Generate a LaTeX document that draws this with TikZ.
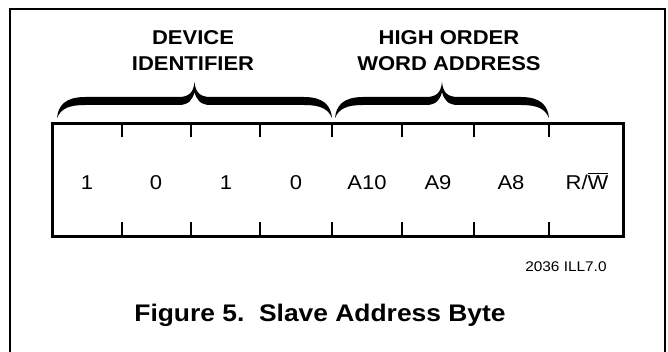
\documentclass[tikz,border=0pt]{standalone}
\usepackage{fontspec}
\setmainfont{Liberation Sans}[FakeStretch=1.1]

\begin{document}
\begin{tikzpicture}[x=0.5pt,y=-0.5pt]
	% Define styles for the lines and the texts
	\tikzset{bytebox/.style={line width=1.5pt},
		bittick/.style={line width=1.3pt},
		fieldtext/.style={align=center, font=\fontsize{10}{13}\selectfont\bfseries},
		bittext/.style={anchor=base, font=\fontsize{10}{12}\selectfont}}
	
	\useasboundingbox (0,0) rectangle (668,352);
	
	% Outer frame, open at the bottom
	\draw[line width=1.4pt] (10,360) -- (10,9) -- (665,9) -- (665,360);
	
	% Draw the byte box
	\draw[bytebox] (52,124) rectangle (623,236);
	
	% Tick marks between the bits
	\foreach \x in {122,191,260,332,402,474,549} {
		\draw[bittick] (\x,124) -- (\x,137);
		\draw[bittick] (\x,236) -- (\x,222);
	}
	
	% Bit labels
	\foreach \x/\b [count=\i] in {87/1,156/0,226/1,296/0,367/A10,438/A9,511/A8,587/{R/$\overline{\mbox{W}}$}}
		\node[bittext] (bit\i) at (\x,190) {\b};
	
	% Braces over the two fields, drawn as filled shapes
	\foreach \bl/\br in {57/332, 335/549} {
		\pgfmathsetmacro\bm{(\bl+\br)/2}
		\fill (\bl,118) .. controls (\bl+1,106) and (\bl+8,97) .. (\bl+28,97)
			-- (\bm-16,97) .. controls (\bm-5,97) and (\bm-1,92) .. (\bm,82)
			.. controls (\bm+1,92) and (\bm+5,97) .. (\bm+16,97)
			-- (\br-28,97) .. controls (\br-8,97) and (\br-1,106) .. (\br,118)
			.. controls (\br-4,109) and (\br-11,105) .. (\br-28,105)
			-- (\bm+16,105) .. controls (\bm+6,105) and (\bm+2,100) .. (\bm,92)
			.. controls (\bm-2,100) and (\bm-6,105) .. (\bm-16,105)
			-- (\bl+28,105) .. controls (\bl+11,105) and (\bl+4,109) .. cycle;
	}
	
	% Field labels
	\node[fieldtext] (devid) at (193,51) {DEVICE\\IDENTIFIER};
	\node[fieldtext] (hiaddr) at (449,51) {HIGH ORDER\\WORD ADDRESS};
	
	% Drawing number and caption
	\node[font=\fontsize{7}{8}\selectfont, anchor=east, inner sep=0pt] (illno) at (607,267) {2036 ILL7.0};
	\node[font=\fontsize{12}{14}\selectfont\bfseries] (caption) at (320,315) {Figure 5.\ \ Slave Address Byte};
\end{tikzpicture}
\end{document}
